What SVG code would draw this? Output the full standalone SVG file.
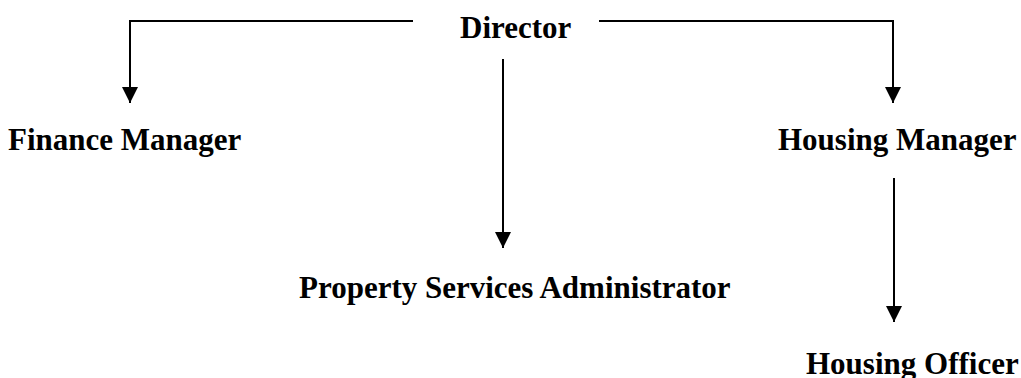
<svg xmlns="http://www.w3.org/2000/svg" width="1021" height="378" viewBox="0 0 1021 378">
<style>
text{font-family:"Liberation Serif","Times New Roman",serif;font-weight:bold;font-size:31px;fill:#000}
.c{fill:none;stroke:#000;stroke-width:2}
</style>
<defs>
<marker id="ah" markerUnits="userSpaceOnUse" markerWidth="16" markerHeight="16" refX="16" refY="8" orient="auto" viewBox="0 0 16 16">
<path d="M0,0 L16,8 L0,16 Z" fill="#000"/>
</marker>
</defs>
<rect width="1021" height="378" fill="#fff"/>
<g id="connectors">
<path class="c" d="M413,21 H130 V103" marker-end="url(#ah)"/>
<path class="c" d="M599,21 H893 V103" marker-end="url(#ah)"/>
<path class="c" d="M503,59 V248" marker-end="url(#ah)"/>
<path class="c" d="M894,178 V322" marker-end="url(#ah)"/>
</g>
<g id="director"><text x="460" y="38">Director</text></g>
<g id="finance-manager"><text x="8" y="150">Finance Manager</text></g>
<g id="housing-manager"><text x="778" y="150">Housing Manager</text></g>
<g id="property-services-administrator"><text x="299" y="298">Property Services Administrator</text></g>
<g id="housing-officer"><text x="806" y="374">Housing Officer</text></g>
</svg>
